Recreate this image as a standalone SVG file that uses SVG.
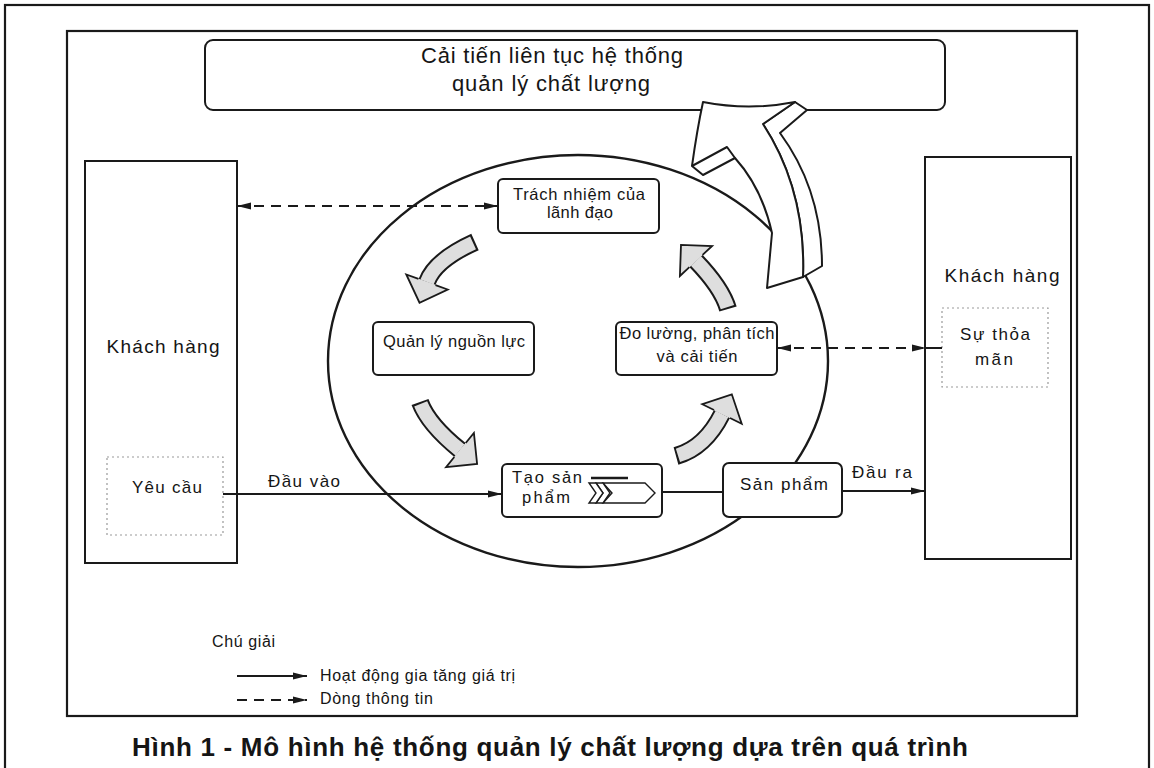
<svg xmlns="http://www.w3.org/2000/svg" width="1154" height="768" viewBox="0 0 1154 768">
<style>
.t{font-family:"Liberation Sans",Arial,sans-serif;fill:#151515}
.m{text-anchor:middle}
.frame{fill:none;stroke:#1a1a1a;stroke-width:2.2}
.box{fill:#fff;stroke:#1a1a1a;stroke-width:2}
.dot{fill:none;stroke:#999;stroke-width:1.2;stroke-dasharray:2 3}
.ln{fill:none;stroke:#1a1a1a;stroke-width:2}
.dash{fill:none;stroke:#1a1a1a;stroke-width:2;stroke-dasharray:10 7}
.ab{fill:none;stroke:#1a1a1a;stroke-width:18}
.af{fill:none;stroke:#dedede;stroke-width:14;stroke-dasharray:0 2 600}
.ah{fill:#dedede;stroke:#1a1a1a;stroke-width:1.8;stroke-linejoin:miter}
.big{fill:#fff;stroke:#1a1a1a;stroke-width:2;stroke-linejoin:round}
</style>
<defs>
<marker id="arr" markerWidth="16" markerHeight="10" refX="14" refY="5" orient="auto-start-reverse" markerUnits="userSpaceOnUse">
<path d="M0,1.5 L14,5 L0,8.5 Z" fill="#1a1a1a"/>
</marker>
</defs>
<rect width="1154" height="768" fill="#fff"/>
<rect x="5" y="5" width="1144" height="775" class="frame"/>
<rect x="67" y="31" width="1010" height="685" class="frame"/>

<g id="title">
<rect x="205" y="40" width="740" height="70" rx="8" class="box"/>
<text class="t m" x="552" y="63" font-size="22" textLength="262" lengthAdjust="spacing">Cải tiến liên tục hệ thống</text>
<text class="t m" x="551" y="91" font-size="22" textLength="198" lengthAdjust="spacing">quản lý chất lượng</text>
</g>

<ellipse id="cycle" cx="578" cy="361" rx="250" ry="206" fill="none" stroke="#1a1a1a" stroke-width="2.4"/>

<g id="customer-left">
<rect x="85" y="161" width="152" height="402" class="box"/>
<text class="t m" x="163" y="353" font-size="19" textLength="113" lengthAdjust="spacing">Khách hàng</text>
</g>
<g id="requirements">
<rect x="107" y="457" width="116" height="78" class="dot"/>
<text class="t m" x="167" y="493" font-size="17" textLength="70" lengthAdjust="spacing">Yêu cầu</text>
</g>
<g id="customer-right">
<rect x="925" y="157" width="146" height="402" class="box"/>
<text class="t m" x="1002" y="282" font-size="19" textLength="115" lengthAdjust="spacing">Khách hàng</text>
</g>
<g id="satisfaction">
<rect x="942" y="308" width="106" height="79" class="dot"/>
<text class="t m" x="995" y="340" font-size="17" textLength="70" lengthAdjust="spacing">Sự thỏa</text>
<text class="t m" x="994" y="365" font-size="17" textLength="38" lengthAdjust="spacing">mãn</text>
</g>

<g id="connectors">
<line x1="237" y1="206" x2="498" y2="206" class="dash" marker-start="url(#arr)" marker-end="url(#arr)"/>
<line x1="777" y1="348" x2="926" y2="348" class="dash" marker-start="url(#arr)" marker-end="url(#arr)"/>
<line x1="924" y1="348" x2="942" y2="348" class="ln"/>
<line x1="223" y1="494" x2="502" y2="494" class="ln" marker-end="url(#arr)"/>
<line x1="662" y1="492" x2="723" y2="492" class="ln"/>
<line x1="842" y1="491" x2="925" y2="491" class="ln" marker-end="url(#arr)"/>
<text class="t" x="268" y="487" font-size="17" textLength="72" lengthAdjust="spacing">Đầu vào</text>
<text class="t" x="852" y="478" font-size="17" textLength="60" lengthAdjust="spacing">Đầu ra</text>
</g>

<g id="leadership">
<rect x="498" y="179" width="161" height="54" rx="5" class="box"/>
<text class="t m" x="579" y="200" font-size="16.5" textLength="132" lengthAdjust="spacing">Trách nhiệm của</text>
<text class="t m" x="580" y="218" font-size="16.5" textLength="66" lengthAdjust="spacing">lãnh đạo</text>
</g>
<g id="resources">
<rect x="373" y="322" width="161" height="53" rx="5" class="box"/>
<text class="t m" x="454" y="347" font-size="16.5" textLength="142" lengthAdjust="spacing">Quản lý nguồn lực</text>
</g>
<g id="measurement">
<rect x="616" y="322" width="161" height="53" rx="5" class="box"/>
<text class="t m" x="697" y="339" font-size="16.5" textLength="155" lengthAdjust="spacing">Đo lường, phân tích</text>
<text class="t m" x="697" y="362" font-size="16.5" textLength="81" lengthAdjust="spacing">và cải tiến</text>
</g>
<g id="realization">
<rect x="502" y="464" width="160" height="53" rx="5" class="box"/>
<text class="t m" x="547" y="483" font-size="16.5" textLength="70" lengthAdjust="spacing">Tạo sản</text>
<text class="t m" x="546" y="503" font-size="16.5" textLength="48" lengthAdjust="spacing">phẩm</text>
<path d="M591,478 L628,478" stroke="#1a1a1a" stroke-width="2.5"/>
<path d="M603,483 L645,483 L655,493 L645,503 L603,503 L612,493 Z" fill="#fff" stroke="#1a1a1a" stroke-width="1.4"/>
<path d="M596,483 L603,483 L610,493 L603,503 L596,503 L603,493 Z" fill="#fff" stroke="#1a1a1a" stroke-width="1.4"/>
<path d="M589,483 L596,483 L603,493 L596,503 L589,503 L596,493 Z" fill="#fff" stroke="#1a1a1a" stroke-width="1.4"/>
</g>
<g id="product">
<rect x="723" y="463" width="119" height="54" rx="6" class="box"/>
<text class="t m" x="784" y="490" font-size="17" textLength="88" lengthAdjust="spacing">Sản phẩm</text>
</g>

<g id="cycle-arrows">
<path class="ab" d="M475,242 Q435,260 427,282"/>
<path class="af" d="M475,242 Q435,260 427,282"/>
<path class="ah" d="M435.5,285.1 L447.7,289.5 L419.5,302.7 L406.3,274.5 L418.5,278.9"/>

<path class="ab" d="M420,402 Q428,424 460,450"/>
<path class="af" d="M420,402 Q428,424 460,450"/>
<path class="ah" d="M454.3,457 L446.1,467.1 L477.1,463.9 L473.9,432.9 L465.7,443"/>

<path class="ab" d="M676,456 Q705,448 722,414"/>
<path class="af" d="M676,456 Q705,448 722,414"/>
<path class="ah" d="M730,418 L741.7,423.8 L731.8,394.3 L702.3,404.2 L714,410"/>

<path class="ab" d="M728,309 Q722,288 696,261"/>
<path class="af" d="M728,309 Q722,288 696,261"/>
<path class="ah" d="M702.6,254.9 L712.1,246 L681,244.9 L679.9,276 L689.4,267.1"/>
</g>

<g id="improvement-arrow">
<path class="big" d="M763,124 L795,102 L807,110 L780,133 Q822,190 822,266 L803,277 Q806,190 763,124 Z"/>
<path class="big" d="M767,288 L772,233 Q762,188 735,158 L703,175 L692,166 Q697,130 703,102 Q749,111 795,102 L763,124 Q806,190 803,277 Z"/>
<path d="M692,166 L727,147 L735,158" fill="none" stroke="#1a1a1a" stroke-width="2" stroke-linejoin="round"/>
</g>

<g id="legend">
<text class="t" x="212" y="647" font-size="16" textLength="63" lengthAdjust="spacing">Chú giải</text>
<line x1="237" y1="676" x2="307" y2="676" class="ln" stroke-width="1.6" marker-end="url(#arr)"/>
<line x1="237" y1="700" x2="307" y2="700" class="dash" stroke-width="1.6" stroke-dasharray="9 6" marker-end="url(#arr)"/>
<text class="t" x="320" y="681" font-size="16" textLength="195" lengthAdjust="spacing">Hoạt động gia tăng giá trị</text>
<text class="t" x="320" y="704" font-size="16" textLength="113" lengthAdjust="spacing">Dòng thông tin</text>
</g>

<text class="t m" x="550" y="756" font-size="26" font-weight="bold" textLength="836" lengthAdjust="spacing">Hình 1 - Mô hình hệ thống quản lý chất lượng dựa trên quá trình</text>
</svg>
